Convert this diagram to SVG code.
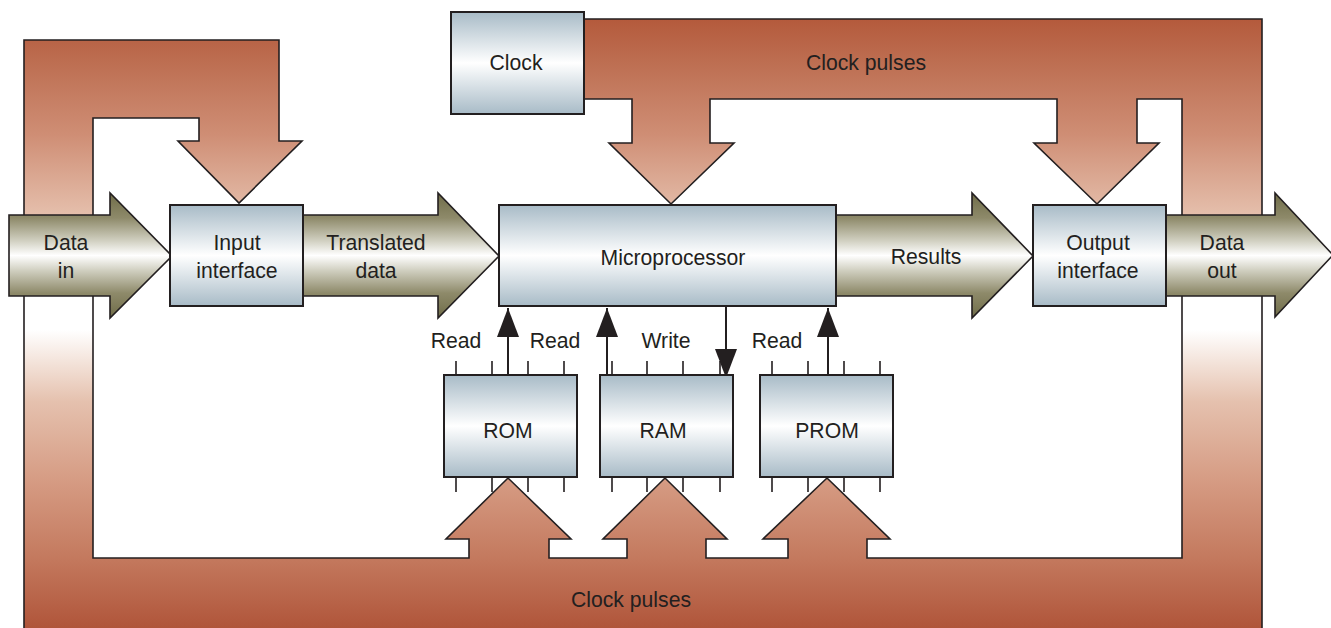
<svg xmlns="http://www.w3.org/2000/svg" width="1331" height="628" viewBox="0 0 1331 628">
<style>
  .band{stroke:#231f20;stroke-width:1.6;stroke-linejoin:miter}
  .data{fill:url(#olive);stroke:#231f20;stroke-width:1.6}
  .box{fill:url(#steel);stroke:#231f20;stroke-width:2}
  .pin{stroke:#231f20;stroke-width:1.6}
  .link{stroke:#231f20;stroke-width:2;fill:none}
  text{font-family:"Liberation Sans",Arial,sans-serif;font-size:21.2px;fill:#231f20;text-anchor:middle}
</style>
<defs>
  <linearGradient id="brownTop" gradientUnits="userSpaceOnUse" x1="0" y1="15" x2="0" y2="215">
    <stop offset="0" stop-color="#b3583a"/>
    <stop offset="0.3" stop-color="#c07458"/>
    <stop offset="0.6" stop-color="#cf8e75"/>
    <stop offset="1" stop-color="#e5bfac"/>
  </linearGradient>
  <linearGradient id="brownBottom" gradientUnits="userSpaceOnUse" x1="0" y1="330" x2="0" y2="628">
    <stop offset="0" stop-color="#ffffff"/>
    <stop offset="0.12" stop-color="#f2e0d6"/>
    <stop offset="0.24" stop-color="#e5c1ae"/>
    <stop offset="0.5" stop-color="#d69c84"/>
    <stop offset="0.76" stop-color="#c47a5f"/>
    <stop offset="1" stop-color="#b0553a"/>
  </linearGradient>
  <linearGradient id="olive" gradientUnits="userSpaceOnUse" x1="0" y1="193" x2="0" y2="318">
    <stop offset="0" stop-color="#6f6c48"/>
    <stop offset="0.2" stop-color="#8e8a6a"/>
    <stop offset="0.38" stop-color="#d0cfc0"/>
    <stop offset="0.5" stop-color="#ffffff"/>
    <stop offset="0.62" stop-color="#d0cfc0"/>
    <stop offset="0.8" stop-color="#8e8a6a"/>
    <stop offset="1" stop-color="#6f6c48"/>
  </linearGradient>
  <linearGradient id="steel" x1="0" y1="0" x2="0" y2="1">
    <stop offset="0" stop-color="#a8bbc7"/>
    <stop offset="0.5" stop-color="#ffffff"/>
    <stop offset="1" stop-color="#a8bbc7"/>
  </linearGradient>
  <marker id="head" markerUnits="userSpaceOnUse" markerWidth="30" markerHeight="24" viewBox="0 0 30 24" refX="29" refY="12" orient="auto">
    <path d="M0,1 L29,12 L0,23 Z" fill="#231f20"/>
  </marker>
</defs>

<g id="connectors">
  <g id="clock-bus">
    <path class="band" fill="url(#brownTop)" d="M584,19 H1262 V225 H1182 V99 H1137 V143 H1159 L1097,204 L1034,143 H1057 V99 H710 V143 H734 L671,204 L609,143 H632 V99 H584 Z"/>
    <path class="band" fill="url(#brownTop)" d="M24,40 H279 V141 H302 L239,203 L178,141 H199 V118 H93 V225 H24 Z"/>
    <path class="band" fill="url(#brownBottom)" d="M24,290 H93 V558 H469 V539 H446 L508,478 L571,539 H549 V558 H627 V539 H603 L665,478 L727,539 H706 V558 H788 V539 H763 L827,478 L890,539 H867 V558 H1182 V290 H1262 V640 H24 Z"/>
    <text x="866" y="70">Clock pulses</text>
    <text x="631" y="607">Clock pulses</text>
  </g>
  <g id="data-flow">
    <path class="data" d="M9,215 H110 V193 L172,256 L110,318 V296 H9 Z"/>
    <path class="data" d="M303,215 H438 V193 L499,256 L438,318 V296 H303 Z"/>
    <path class="data" d="M836,215 H972 V193 L1033,256 L972,318 V296 H836 Z"/>
    <path class="data" d="M1166,215 H1275 V193 L1333,255 L1275,317 V296 H1166 Z"/>
    <text x="66" y="250">Data</text>
    <text x="66" y="278">in</text>
    <text x="376" y="250">Translated</text>
    <text x="376" y="278">data</text>
    <text x="926" y="264">Results</text>
    <text x="1222" y="250">Data</text>
    <text x="1222" y="278">out</text>
  </g>
  <g id="memory-links">
    <line class="link" x1="508" y1="375" x2="508" y2="308" marker-end="url(#head)"/>
    <line class="link" x1="607" y1="375" x2="607" y2="308" marker-end="url(#head)"/>
    <line class="link" x1="726" y1="306" x2="726" y2="378" marker-end="url(#head)"/>
    <line class="link" x1="828" y1="375" x2="828" y2="308" marker-end="url(#head)"/>
    <text x="456" y="348">Read</text>
    <text x="555" y="348">Read</text>
    <text x="666" y="348">Write</text>
    <text x="777" y="348">Read</text>
  </g>
</g>

<g id="clock">
  <rect class="box" x="451" y="12" width="133" height="102"/>
  <text x="516" y="70">Clock</text>
</g>
<g id="input-interface">
  <rect class="box" x="170" y="205" width="133" height="101"/>
  <text x="237" y="250">Input</text>
  <text x="237" y="278">interface</text>
</g>
<g id="microprocessor">
  <rect class="box" x="499" y="205" width="337" height="101"/>
  <text x="673" y="265">Microprocessor</text>
</g>
<g id="output-interface">
  <rect class="box" x="1033" y="205" width="133" height="101"/>
  <text x="1098" y="250">Output</text>
  <text x="1098" y="278">interface</text>
</g>
<g id="rom">
  <path class="pin" d="M456,361V375M492,361V375M528,361V375M564,361V375M456,477V492M492,477V492M528,477V492M564,477V492"/>
  <rect class="box" x="444" y="375" width="133" height="102"/>
  <text x="508" y="438">ROM</text>
</g>
<g id="ram">
  <path class="pin" d="M612,361V375M647,361V375M683,361V375M720,361V375M612,477V492M647,477V492M683,477V492M720,477V492"/>
  <rect class="box" x="600" y="375" width="133" height="102"/>
  <text x="663" y="438">RAM</text>
</g>
<g id="prom">
  <path class="pin" d="M772,361V375M808,361V375M844,361V375M880,361V375M772,477V492M808,477V492M844,477V492M880,477V492"/>
  <rect class="box" x="760" y="375" width="133" height="102"/>
  <text x="827" y="438">PROM</text>
</g>
</svg>
